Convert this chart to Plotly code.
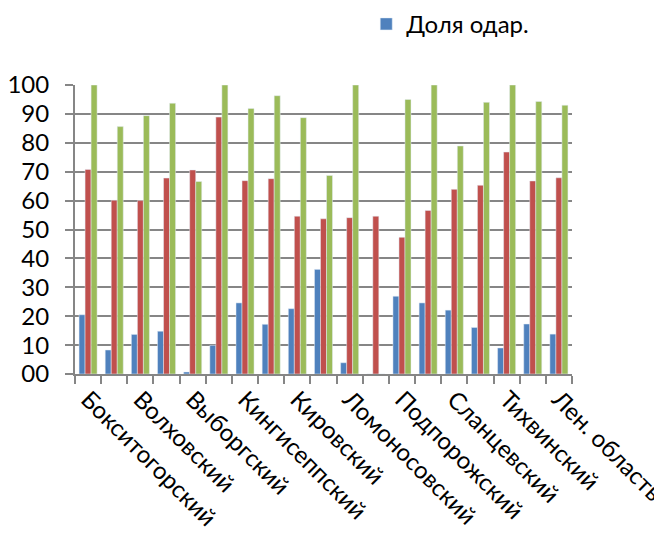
import plotly.graph_objects as go

categories = ["Бокситогорский", "Волосовский", "Волховский", "Всеволожский", "Выборгский",
              "Гатчинский", "Кингисеппский", "Киришский", "Кировский", "Лодейнопольский",
              "Ломоносовский", "Лужский", "Подпорожский", "Приозерский", "Сланцевский",
              "Сосновоборский", "Тихвинский", "Тосненский", "Лен. область"]

blue_name = "Доля одар."
blue_vals = [20.5, 8.3, 13.7, 14.8, 0.7, 9.9, 24.6, 17.2, 22.6, 36.2,
             3.9, 0, 26.9, 24.6, 22.1, 16.1, 9.0, 17.3, 13.8]
red_vals = [70.8, 60.1, 60.0, 67.8, 70.6, 88.9, 66.9, 67.6, 54.6, 53.7,
            54.1, 54.6, 47.3, 56.6, 63.9, 65.3, 76.8, 66.8, 67.9]
green_vals = [100, 85.6, 89.4, 93.7, 66.6, 100, 91.9, 96.3, 88.7, 68.7,
              100, 0, 95.0, 100, 78.9, 94.0, 100, 94.3, 93.0]

y_tick_vals = [0, 10, 20, 30, 40, 50, 60, 70, 80, 90, 100]
y_tick_text = ["00", "10", "20", "30", "40", "50", "60", "70", "80", "90", "100"]

idx = list(range(len(categories)))

fig = go.Figure()
fig.add_trace(go.Bar(x=idx, y=blue_vals, name=blue_name, marker_color="#4F81BD", showlegend=True))
fig.add_trace(go.Bar(x=idx, y=red_vals, name="Серия 2", marker_color="#C0504D", showlegend=False))
fig.add_trace(go.Bar(x=idx, y=green_vals, name="Серия 3", marker_color="#9BBB59", showlegend=False))

fig.update_layout(
    width=654, height=525,
    margin=dict(l=67, r=90, t=77, b=159, autoexpand=False),
    paper_bgcolor="white", plot_bgcolor="white",
    barmode="group", bargap=0.31, bargroupgap=0,
    font=dict(family="Lato", size=24, color="black"),
    legend=dict(x=0.586, y=1.21, xanchor="left", yanchor="middle",
                font=dict(size=24), bgcolor="rgba(0,0,0,0)",
                itemwidth=30),
    xaxis=dict(
        range=[-0.5, len(categories) - 0.5],
        tickmode="array", tickvals=idx[::2], ticktext=categories[::2],
        tickangle=45, ticks="", showgrid=False,
        tickfont=dict(size=24), ticklabeloverflow="allow",
        showline=True, linecolor="#868686", linewidth=2,
        minor=dict(tick0=-0.5, dtick=1, ticks="outside", ticklen=8,
                   tickcolor="#868686", tickwidth=2, showgrid=False),
        zeroline=False, automargin=False,
    ),
    yaxis=dict(
        range=[0, 100],
        tickmode="array", tickvals=y_tick_vals, ticktext=y_tick_text,
        ticks="outside", ticklen=8, tickcolor="#868686", tickwidth=2,
        ticklabelstandoff=11, tickfont=dict(size=24),
        showgrid=True, gridcolor="#868686", gridwidth=2,
        showline=True, linecolor="#868686", linewidth=2,
        zeroline=False, automargin=False,
    ),
)

fig.write_html("out.html")
